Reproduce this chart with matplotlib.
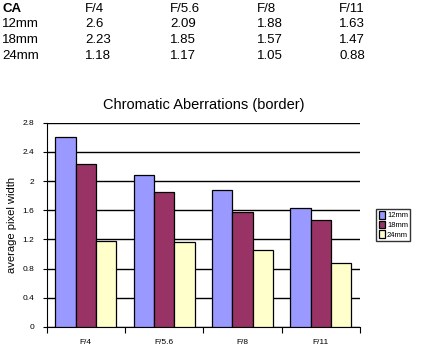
import numpy as np
import matplotlib
matplotlib.use("Agg")
import matplotlib.pyplot as plt

apertures = ["F/4", "F/5.6", "F/8", "F/11"]
focal = ["12mm", "18mm", "24mm"]
ca_12 = [2.6, 2.09, 1.88, 1.63]
ca_18 = [2.23, 1.85, 1.57, 1.47]
ca_24 = [1.18, 1.17, 1.05, 0.88]
colors = ["#9999FF", "#993366", "#FFFFCC"]

fig = plt.figure(figsize=(4.27, 3.58), dpi=100)
plt.rcParams['font.family'] = ['Liberation Sans', 'DejaVu Sans']

# table at top
col_x = [0.005, 0.199, 0.398, 0.602, 0.794]
row_y = [0.975, 0.932, 0.887, 0.843]
fig.text(col_x[0], row_y[0], "CA", fontsize=9.5, fontweight="bold", va="center")
for j, a in enumerate(apertures):
    fig.text(col_x[j + 1], row_y[0], a, fontsize=9.5, va="center")
for i, (name, vals) in enumerate(zip(focal, [ca_12, ca_18, ca_24])):
    fig.text(col_x[0], row_y[i + 1], name, fontsize=9.5, va="center")
    for j, v in enumerate(vals):
        fig.text(col_x[j + 1], row_y[i + 1], str(v), fontsize=9.5, va="center")

ax = fig.add_axes([0.109, 0.087, 0.734, 0.570])
x = np.arange(len(apertures))
w = 0.26
for k, (vals, c, lab) in enumerate(zip([ca_12, ca_18, ca_24], colors, focal)):
    ax.bar(x + (k - 1) * w, vals, width=w, color=c, edgecolor="black",
           linewidth=0.9, label=lab, zorder=3)

ax.set_xlim(-0.5, 3.5)
ax.set_ylim(0, 2.8)
yt = np.arange(0, 2.81, 0.4)
ax.set_yticks(yt)
ax.set_yticklabels(["0", "0.4", "0.8", "1.2", "1.6", "2", "2.4", "2.8"], fontsize=6)
ax.yaxis.grid(True, color="black", linewidth=1.0, zorder=0)
ax.set_xticks(np.arange(-0.5, 3.6, 1.0))
ax.set_xticklabels([])
ax.set_xticks(x, minor=True)
ax.set_xticklabels(apertures, minor=True, fontsize=6)
ax.tick_params(axis="x", which="minor", length=0, pad=9)
ax.tick_params(axis="x", which="major", length=4, direction="out")
ax.tick_params(axis="y", length=3, direction="out", pad=6)
for s in ["top", "right"]:
    ax.spines[s].set_visible(False)
ax.set_ylabel("average pixel width", fontsize=8)
ax.set_title("Chromatic Aberrations (border)", fontsize=10.5, pad=10)

ax.legend(loc="center left", bbox_to_anchor=(1.04, 0.5), fontsize=5.5,
          frameon=True, fancybox=False, edgecolor="black", handlelength=0.8,
          handleheight=1.2, handletextpad=0.3, borderpad=0.3, labelspacing=0.15)

fig.savefig("out.png", dpi=100)
